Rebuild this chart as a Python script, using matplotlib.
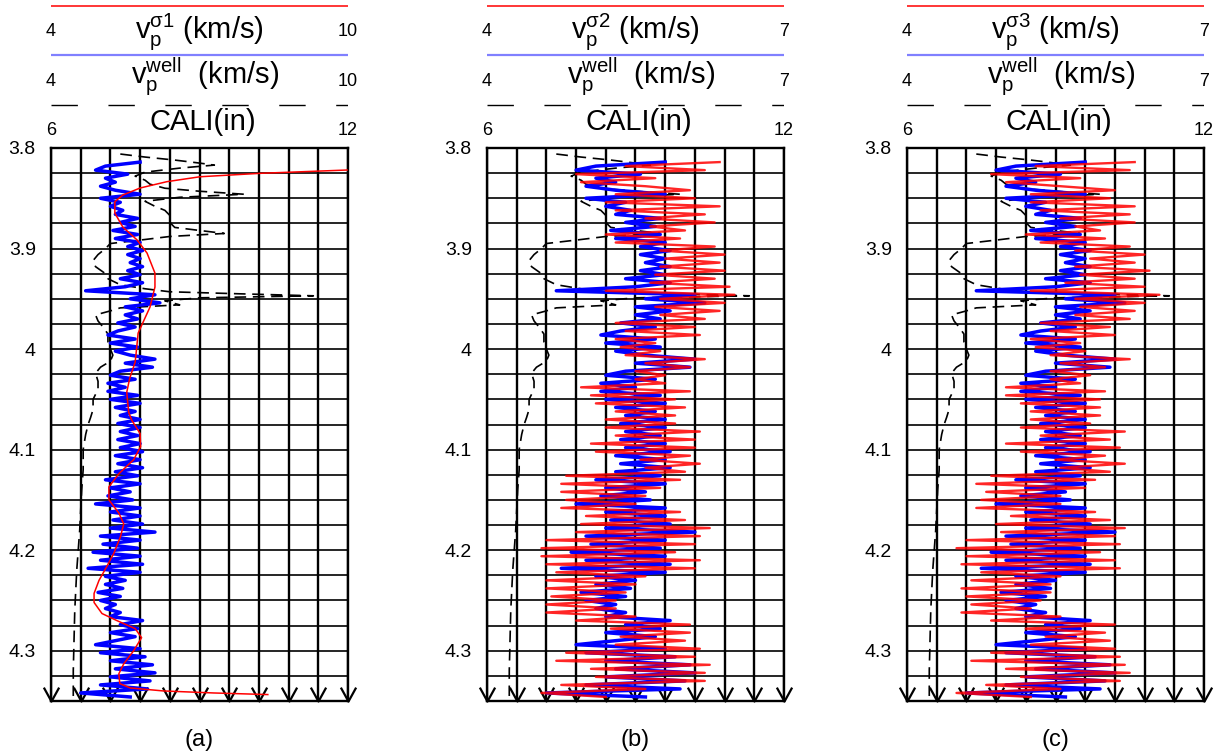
import numpy as np
import matplotlib.pyplot as plt
from matplotlib.path import Path

plt.rcParams['font.family'] = ['Liberation Sans', 'DejaVu Sans']
plt.rcParams['mathtext.fontset'] = 'custom'
plt.rcParams['mathtext.rm'] = 'Liberation Sans'

# ---- data ----
# well velocity, sampled every 0.004 km from 3.814
depth_start, depth_step = 3.814, 0.004
vp_well = [5.8, 5.1, 4.9, 5.55, 5.1, 5.3, 5.0, 5.3, 5.8, 5.0,
           5.4, 5.2, 5.45, 5.3, 5.75, 5.4, 5.7, 5.25, 5.75, 5.3,
           5.8, 5.55, 5.85, 5.55, 5.8, 5.6, 5.85, 5.55, 5.8, 5.4,
           5.85, 5.5, 4.7, 6.1, 5.6, 6.2, 5.5, 5.85, 5.5, 5.75,
           5.35, 5.7, 5.35, 5.15, 5.7, 5.2, 5.75, 5.3, 5.6, 6.1,
           5.5, 6.05, 5.4, 5.2, 5.7, 5.15, 5.5, 5.15, 5.75, 5.2,
           5.8, 5.3, 5.7, 5.4, 5.8, 5.35, 5.8, 5.4, 5.75, 5.35,
           5.8, 5.4, 5.85, 5.3, 5.8, 5.35, 5.85, 5.3, 5.75, 5.1,
           5.8, 5.2, 5.6, 5.15, 5.65, 4.9, 5.8, 5.2, 5.8, 5.25,
           5.85, 5.2, 6.1, 5.0, 5.8, 5.05, 5.75, 4.85, 5.8, 5.0,
           5.85, 4.75, 5.8, 5.1, 5.5, 5.1, 5.45, 4.95, 5.4, 5.0,
           5.3, 5.1, 5.4, 5.2, 5.85, 5.4, 5.75, 5.2, 5.7, 5.3,
           4.9, 5.8, 5.0, 5.9, 5.2, 6.05, 5.3, 6.1, 5.2, 6.0,
           5.0, 5.95, 4.6, 5.6]

vp_sigma2 = [6.35, 5.4, 6.2, 4.9, 5.7, 4.95, 5.6, 6.05, 5.3, 6.1,
             5.2, 6.35, 5.3, 6.2, 5.6, 6.3, 5.65, 6.0, 5.2, 5.95,
             5.3, 6.3, 5.75, 6.4, 5.8, 6.35, 5.75, 6.4, 5.7, 6.3,
             5.65, 6.45, 5.2, 6.5, 5.75, 6.4, 5.7, 6.35, 5.75, 6.2,
             5.3, 6.1, 5.4, 6.15, 5.3, 5.7, 5.35, 5.75, 5.4, 6.2,
             5.6, 6.05, 5.5, 5.8, 5.5, 5.8, 4.95, 6.05, 5.05, 5.9,
             5.1, 6.0, 5.3, 5.9, 5.2, 5.9, 5.2, 6.15, 5.3, 6.1,
             5.05, 6.1, 5.1, 6.05, 5.55, 6.15, 5.6, 6.0, 4.8, 5.95,
             4.75, 5.75, 4.75, 5.6, 4.8, 5.5, 4.75, 5.95, 5.0, 6.0,
             4.95, 6.25, 4.9, 6.15, 4.6, 6.1, 4.55, 5.9, 4.55, 6.15,
             4.6, 6.1, 4.7, 5.6, 4.6, 5.5, 4.6, 5.4, 4.65, 5.3,
             4.6, 5.3, 4.6, 5.5, 4.9, 6.05, 5.25, 6.05, 5.35, 6.0,
             5.3, 6.15, 4.8, 6.1, 4.7, 6.25, 5.05, 6.2, 5.1, 6.2,
             4.75, 5.6, 4.55, 5.2]

vp_sigma3 = [6.3, 5.3, 6.25, 4.85, 5.75, 5.0, 5.55, 6.1, 5.25, 6.05,
             5.25, 6.3, 5.35, 6.25, 5.55, 6.3, 5.7, 5.95, 5.2, 6.0,
             5.35, 6.25, 5.7, 6.4, 5.85, 6.3, 5.7, 6.45, 5.75, 6.3,
             5.6, 6.4, 5.25, 6.55, 5.7, 6.4, 5.75, 6.3, 5.7, 6.25,
             5.35, 6.05, 5.45, 6.1, 5.25, 5.75, 5.3, 5.8, 5.45, 6.25,
             5.55, 6.0, 5.45, 5.85, 5.45, 5.75, 5.0, 6.0, 5.0, 5.95,
             5.15, 5.95, 5.25, 5.95, 5.25, 5.85, 5.15, 6.2, 5.35, 6.05,
             5.0, 6.15, 5.15, 6.0, 5.5, 6.2, 5.55, 6.05, 4.85, 5.9,
             4.7, 5.8, 4.8, 5.55, 4.75, 5.55, 4.7, 5.9, 5.05, 6.05,
             4.9, 6.2, 4.95, 6.1, 4.6, 6.15, 4.5, 5.95, 4.6, 6.1,
             4.55, 6.15, 4.75, 5.55, 4.65, 5.45, 4.55, 5.45, 4.6, 5.35,
             4.65, 5.25, 4.55, 5.55, 4.85, 6.1, 5.2, 6.0, 5.4, 6.05,
             5.25, 6.1, 4.85, 6.15, 4.65, 6.2, 5.0, 6.25, 5.15, 6.15,
             4.8, 5.55, 4.5, 5.25]

# smoothed velocity of panel (a)
sig1_depth = [3.8219, 3.8252, 3.8286, 3.8335, 3.8398, 3.8468, 3.8534, 3.8647,
              3.8786, 3.8915, 3.9045, 3.9244, 3.9383, 3.9582, 3.9841, 4.004,
              4.013, 4.029, 4.043, 4.063, 4.0706, 4.084, 4.097, 4.110,
              4.124, 4.137, 4.150, 4.163, 4.174, 4.187, 4.203, 4.216,
              4.230, 4.243, 4.252, 4.263, 4.270, 4.278, 4.287, 4.300,
              4.313, 4.323, 4.3327, 4.337, 4.340, 4.342, 4.3436]
vp_sigma1 = [9.98, 8.22, 7.01, 6.34, 5.80, 5.45, 5.29, 5.29,
             5.45, 5.74, 5.94, 6.10, 6.10, 6.00, 5.76, 5.72,
             5.70, 5.59, 5.53, 5.57, 5.63, 5.80, 5.81, 5.67,
             5.37, 5.17, 5.17, 5.37, 5.47, 5.40, 5.27, 5.13,
             4.97, 4.87, 4.87, 5.03, 5.33, 5.70, 5.83, 5.67,
             5.47, 5.37, 5.39, 5.60, 6.27, 7.28, 8.38]

# caliper
cali_depth = [3.806, 3.809, 3.812, 3.815, 3.817, 3.820, 3.824, 3.828, 3.832, 3.836,
              3.840, 3.843, 3.846, 3.849, 3.853, 3.858, 3.862, 3.867, 3.874, 3.879,
              3.882, 3.885, 3.888, 3.891, 3.895, 3.900, 3.906, 3.912, 3.918, 3.925,
              3.930, 3.936, 3.940, 3.943, 3.945, 3.947, 3.949, 3.952, 3.956, 3.959,
              3.962, 3.966, 3.972, 3.978, 3.985, 3.993, 4.000, 4.006, 4.012, 4.018,
              4.024, 4.032, 4.040, 4.050, 4.060, 4.068, 4.075, 4.085, 4.100, 4.120,
              4.140, 4.160, 4.180, 4.200, 4.220, 4.240, 4.260, 4.280, 4.300, 4.320,
              4.345]
cali = [7.4, 7.9, 8.5, 9.0, 9.3, 8.6, 7.9, 7.7, 7.9, 8.0,
        8.3, 9.0, 9.9, 8.6, 7.9, 8.1, 8.3, 8.4, 8.4, 8.5,
        9.0, 9.5, 8.4, 7.9, 7.2, 7.1, 6.95, 6.85, 6.9, 7.1,
        7.15, 7.4, 7.9, 8.4, 9.8, 11.3, 9.0, 8.3, 8.6, 7.4,
        7.2, 6.9, 6.95, 7.05, 7.15, 7.15, 7.2, 7.25, 7.2, 7.0,
        6.9, 6.95, 6.95, 6.85, 6.85, 6.8, 6.75, 6.7, 6.65, 6.65,
        6.62, 6.6, 6.58, 6.55, 6.52, 6.5, 6.48, 6.47, 6.46, 6.45,
        6.45]

depth_ticks = [3.8, 3.9, 4.0, 4.1, 4.2, 4.3]
depth_labels = ['3.8', '3.9', '4', '4.1', '4.2', '4.3']
vp_max = [10, 7, 7]
vp_max_labels = ['10', '7', '7']
red_titles = [r'$\mathregular{v_p^{\sigma 1}}$ (km/s)',
              r'$\mathregular{v_p^{\sigma 2}}$ (km/s)',
              r'$\mathregular{v_p^{\sigma 3}}$ (km/s)']
panel_tags = ['(a)', '(b)', '(c)']

depth = np.round(depth_start + depth_step * np.arange(len(vp_well)), 4)
red_series = [(vp_sigma1, sig1_depth), (vp_sigma2, depth), (vp_sigma3, depth)]

# ---- layout in pixels ----
W, H = 1224, 755
top_px, bot_px = 148, 701
panel_left = [51, 487, 907]
panel_w = 297

fig = plt.figure(figsize=(W / 100, H / 100), dpi=100)

# open "V" arrowhead, tip at the origin
vmark = Path([(-0.55, 1), (0, 0), (0.55, 1)],
             [Path.MOVETO, Path.LINETO, Path.LINETO])

for i in range(3):
    l = panel_left[i]
    ax = fig.add_axes([l / W, 1 - bot_px / H, panel_w / W, (bot_px - top_px) / H])
    ax.set_xlim(6, 12)
    ax.set_ylim(4.35, 3.8)
    gx = np.linspace(6, 12, 11)
    ax.set_xticks(gx)
    ax.set_yticks(depth_ticks)
    ax.set_yticklabels(depth_labels)
    ax.set_yticks(np.arange(3.8, 4.3501, 0.025), minor=True)
    ax.tick_params(axis='both', which='both', length=0, labelbottom=False)
    ax.tick_params(axis='y', labelsize=14, pad=11)
    ax.grid(axis='x', color='black', lw=1.7)
    ax.grid(axis='y', which='both', color='black', lw=1.2)
    for s in ax.spines.values():
        s.set_linewidth(1.7)

    ax.plot(cali, cali_depth, color='black', lw=1.2, ls=(0, (7, 4)))
    ax.plot(gx, [4.35] * len(gx), ls='none', marker=vmark, ms=20, mew=1.6,
            mfc='none', mec='black', clip_on=False, zorder=5)

    ax2 = ax.twiny()
    ax2.set_xlim(4, vp_max[i])
    ax2.axis('off')
    ax2.plot(vp_well, depth, color='blue', lw=2.5)
    rv, rd = red_series[i]
    if i == 0:
        ax2.plot(rv, rd, color='red', lw=1.1)
    else:
        ax2.plot(rv, rd, color='red', lw=1.7, alpha=0.85)

    # header with curve scales
    hax = fig.add_axes([l / W, 1 - 140 / H, panel_w / W, 140 / H])
    hax.set_xlim(0, 1)
    hax.set_ylim(140, 0)
    hax.axis('off')
    hax.plot([0, 1], [6, 6], color='red', lw=1.1)
    hax.plot([0, 1], [55, 55], color='#8080ff', lw=1.6)
    hax.plot([0, 1], [104.5, 104.5], color='black', lw=1.0, ls=(0, (19, 22)))
    hax.text(0, 36, '4', ha='center', va='baseline', fontsize=13)
    hax.text(1, 36, vp_max_labels[i], ha='center', va='baseline', fontsize=13)
    hax.text(0.5, 38, red_titles[i], ha='center', va='baseline', fontsize=21)
    hax.text(0, 86, '4', ha='center', va='baseline', fontsize=13)
    hax.text(1, 86, vp_max_labels[i], ha='center', va='baseline', fontsize=13)
    hax.text(0.52, 83.5, r'$\mathregular{v_p^{well}}$  (km/s)', ha='center',
             va='baseline', fontsize=21)
    hax.text(0, 135, '6', ha='center', va='baseline', fontsize=13)
    hax.text(1, 135, '12', ha='center', va='baseline', fontsize=13)
    hax.text(0.51, 130, 'CALI(in)', ha='center', va='baseline', fontsize=21)

    fig.text((l + panel_w / 2) / W, 1 - 740 / H, panel_tags[i],
             ha='center', va='center', fontsize=17)

fig.savefig('out.png', dpi=100)
